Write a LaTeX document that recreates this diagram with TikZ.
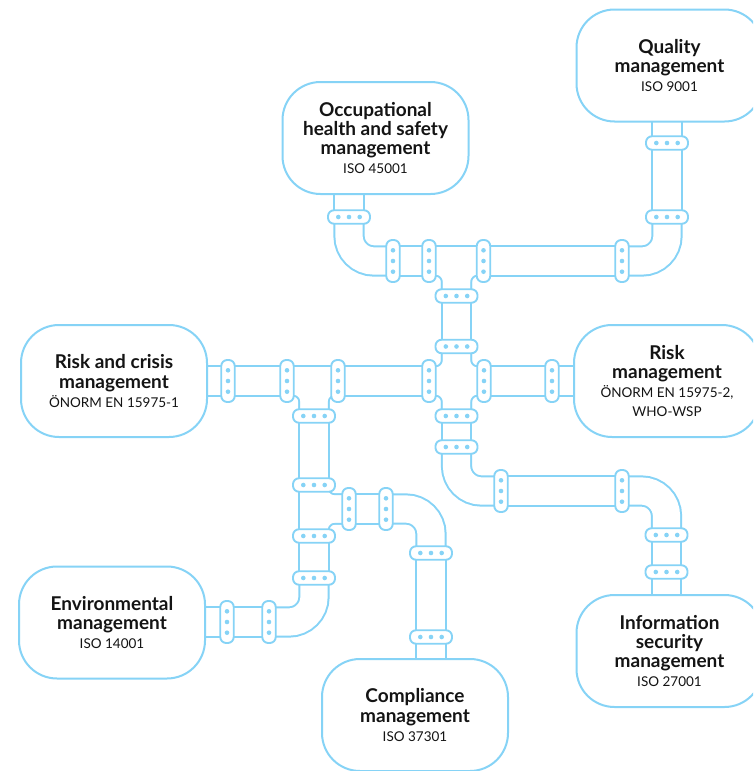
\documentclass[tikz,border=0pt]{standalone}
\usepackage{fontspec}
\setmainfont{Lato}
\usetikzlibrary{backgrounds}

\definecolor{pipeblue}{HTML}{86D3F6}
\definecolor{labelink}{HTML}{141414}
\newcommand{\iso}[1]{{\fontsize{13.5}{19}\selectfont\mdseries #1}}

\tikzset{
  unitbox/.style={draw=pipeblue, line width=2pt, fill=white, rounded corners=38pt,
    minimum width=186pt, minimum height=112pt, align=center, text=labelink,
    inner sep=0pt, font=\fontsize{19}{19.2}\selectfont\bfseries},
  flatclamp/.style={draw=pipeblue, line width=1.9pt, fill=white, rounded corners=6pt,
    minimum width=42pt, minimum height=13.5pt, inner sep=0pt},
  upclamp/.style={flatclamp, minimum width=13.5pt, minimum height=42pt},
  rivet/.style={fill=pipeblue}
}

\begin{document}
\begin{tikzpicture}[x=1pt, y=-1pt]
  \useasboundingbox (0,0) rectangle (753,771);
  \clip (0,0) rectangle (753,771);

  \node[unitbox] (quality) at (669.5,65.5) {Quality\\management\\\iso{ISO 9001}};
  \node[unitbox] (occ) at (375.5,138) {Occupational\\health and safety\\management\\\iso{ISO 45001}};
  \node[unitbox] (crisis) at (114,381) {Risk and crisis\\management\\\iso{ÖNORM EN 15975-1}};
  \node[unitbox] (risk) at (667,381) {Risk\\management\\\iso{ÖNORM EN 15975-2,}\\\iso{WHO-WSP}};
  \node[unitbox] (environ) at (112,622.5) {Environmental\\management\\\iso{ISO 14001}};
  \node[unitbox] (compl) at (415,715) {Compliance\\management\\\iso{ISO 37301}};
  \node[unitbox] (infosec) at (669.5,651) {Information\\security\\management\\\iso{ISO 27001}};

  \foreach \n/\cx/\cy in {occa/349/217, quala/667/143, qualb/667/217, upa/456.5/296, upb/456.5/346.5,
    dna/456.5/416, dnb/456.5/447, infoa/666.5/535, infob/666.5/572, lva/314/416, lvb/314/485,
    lvc/314/536, lvd/314/578, compa/431/553, compb/431/637} {
    \node[flatclamp] (\n) at (\cx,\cy) {};
    \foreach \d in {-10.7,0,10.7}
      \fill[rivet] ([xshift=\d pt]\n.center) circle (2.3pt);
  }
  \foreach \n/\cx/\cy in {topa/393/261, topb/429/261, topc/483.5/261, topd/622/261, mida/228/381,
    midb/287/381, midc/338/381, midd/429/381, mide/484/381, midf/552/381, lowa/501/491,
    lowb/622/491, bra/349/509, brb/386/509, enva/227/622, envb/269/622} {
    \node[upclamp] (\n) at (\cx,\cy) {};
    \foreach \d in {-10.7,0,10.7}
      \fill[rivet] ([yshift=\d pt]\n.center) circle (2.3pt);
  }

  \begin{scope}[on background layer]
    \foreach \w/\c in {31.2pt/pipeblue, 27.2pt/white} {
      \begin{scope}[line width=\w, draw=\c]
        \draw (quala |- quality) -- (qualb.center);
        \draw (occa |- occ) -- (occa.center);
        \draw (topd.center) -- (topa.center);
        \draw (upa.center) -- (upb.center);
        \draw (midf -| risk) -- (mide.center);
        \draw (midd.center) -- (mida -| crisis);
        \draw (dna.center) -- (dnb.center);
        \draw (lowa.center) -- (lowb.center);
        \draw (infoa.center) -- (infob |- infosec);
        \draw (lva.center) -- (lvd.center);
        \draw (envb.center) -- (enva -| environ);
        \draw (bra.center) -- (brb.center);
        \draw (compa.center) -- (compb |- compl);
        \draw[rounded corners=25pt] (qualb.center) |- (topd.center);
        \draw[rounded corners=25pt] (topa.center) -| (occa.center);
        \draw[rounded corners=25pt] (dnb.center) |- (lowa.center);
        \draw[rounded corners=25pt] (lowb.center) -| (infoa.center);
        \draw[rounded corners=25pt] (lvd.center) |- (envb.center);
        \draw[rounded corners=25pt] (brb.center) -| (compa.center);
        \draw[rounded corners=21pt] (topb.center) -| (upa.center);
        \draw[rounded corners=21pt] (topc.center) -| (upa.center);
        \draw[rounded corners=21pt] (upb.center) |- (midd.center);
        \draw[rounded corners=21pt] (upb.center) |- (mide.center);
        \draw[rounded corners=21pt] (midd.center) -| (dna.center);
        \draw[rounded corners=21pt] (mide.center) -| (dna.center);
        \draw[rounded corners=21pt] (midb.center) -| (lva.center);
        \draw[rounded corners=21pt] (midc.center) -| (lva.center);
        \draw[rounded corners=21pt] (lvb.center) |- (bra.center);
        \draw[rounded corners=21pt] (lvc.center) |- (bra.center);
      \end{scope}
    }
  \end{scope}
\end{tikzpicture}
\end{document}
